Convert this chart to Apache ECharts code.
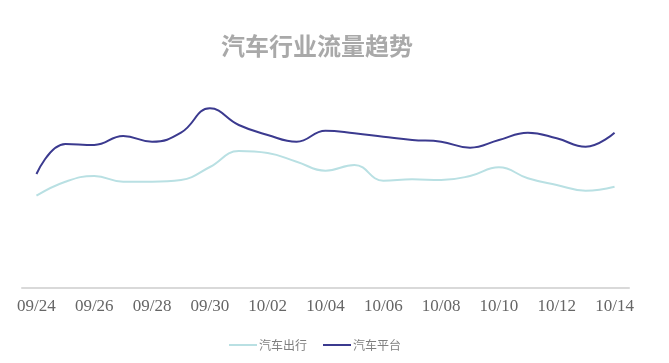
<!DOCTYPE html>
<html><head><meta charset="utf-8">
<script src="https://cdn.jsdelivr.net/npm/echarts@6/dist/echarts.min.js"></script>
<style>html,body{margin:0;padding:0;background:#fff}#c{width:669px;height:363px}</style>
</head><body><div id="c"></div>
<script>
var categories = ['09/24','09/25','09/26','09/27','09/28','09/29','09/30','10/01','10/02','10/03','10/04','10/05','10/06','10/07','10/08','10/09','10/10','10/11','10/12','10/13','10/14'];
var travelValues = [92,106,111.7,106,106,107.7,120.7,136.7,134.7,126,117,122.7,107,108.4,107.7,111.7,120.4,109.4,102.7,97,101];
var platformValues = [113.7,143.7,142.7,151.7,146,155,179.4,162.7,152.7,146,157,154.4,151,147.7,146,140,147.7,155,149.4,141,155];
var seriesNames = ['汽车出行','汽车平台'];
var chart = echarts.init(document.getElementById('c'));
chart.setOption({
  animation:false,
  title:{text:'汽车行业流量趋势',left:216,top:29,textStyle:{color:'#a9a9a9',fontSize:24,fontWeight:'bold',fontFamily:'Noto Sans CJK SC'}},
  legend:{data:seriesNames,left:224,top:334,icon:'rect',itemWidth:28,itemHeight:2,itemGap:16,textStyle:{color:'#7f7f7f',fontSize:12,fontFamily:'Noto Sans CJK SC',padding:[0,0,0,-3]}},
  grid:{left:22,right:40,top:87.7,bottom:75.3},
  xAxis:{type:'category',data:categories,boundaryGap:true,
    axisLine:{lineStyle:{color:'#d9d9d9',width:2}},axisTick:{show:false},
    axisLabel:{interval:1,color:'#666666',fontSize:17,fontFamily:'Liberation Serif',margin:10}},
  yAxis:{type:'value',min:0,max:200,show:false,splitLine:{show:false}},
  series:[
    {name:seriesNames[0],type:'line',smooth:0.45,showSymbol:false,data:travelValues,lineStyle:{color:'#b9e0e3',width:2},itemStyle:{color:'#b9e0e3'}},
    {name:seriesNames[1],type:'line',smooth:0.45,showSymbol:false,data:platformValues,lineStyle:{color:'#3b3a8f',width:2},itemStyle:{color:'#3b3a8f'}}
  ]
});
</script></body></html>
